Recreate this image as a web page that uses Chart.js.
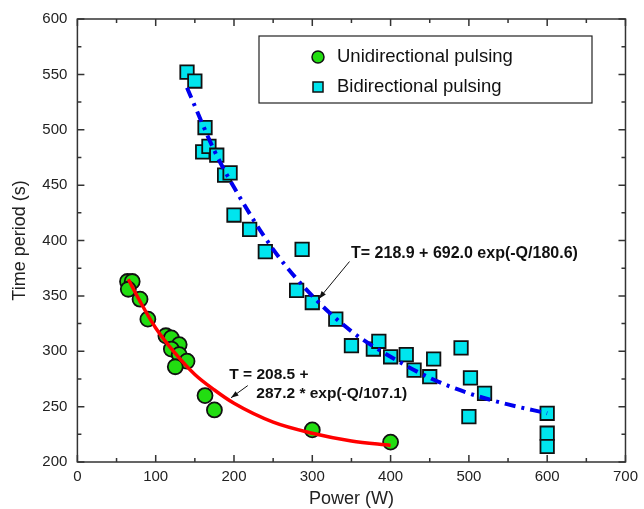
<!DOCTYPE html>
<html lang="en">
<head>
  <meta charset="UTF-8">
  <title>Time period vs Power</title>
  <script src="https://cdn.jsdelivr.net/npm/chart.js@4.4.1/dist/chart.umd.min.js"></script>
  <style>
    html, body { margin: 0; padding: 0; background: #fff; }
    #wrap { width: 644px; height: 509px; }
  </style>
</head>
<body>
  <div id="wrap"><canvas id="chart" width="644" height="509"></canvas></div>
  <script>
    // measured points
    const uniPower = [64, 70, 65, 80, 90, 113, 120, 130, 120, 130, 140, 125, 163, 175, 300, 400];
    const uniTime  = [363, 363, 356, 347, 329, 314, 312, 306, 302, 297, 291, 286, 260, 247, 229, 218];

    const biPower = [140, 150, 163, 160, 168, 178, 188, 195, 200, 220, 240, 287, 280, 300, 330,
                     350, 378, 385, 400, 420, 430, 450, 455, 490, 502, 500, 520, 600, 600, 600];
    const biTime  = [552, 544, 502, 480, 485, 477, 459, 461, 423, 410, 390, 392, 355, 344, 329,
                     305, 302, 309, 295, 297, 283, 277, 293, 303, 276, 241, 262, 244, 226, 214];

    // fitted curves
    const uniFitPower = [65, 80, 100, 125, 150, 175, 200, 250, 300, 350, 400];
    const uniFitTime  = [365, 345, 321, 298, 279, 265, 253, 236, 226, 219, 215];
    const biFitPower  = [140, 175, 200, 250, 300, 350, 400, 450, 500, 550, 600];
    const biFitTime   = [538, 481, 448, 392, 350, 318, 295, 276, 262, 252, 244];

    const seriesNames = ['Unidirectional pulsing', 'Bidirectional pulsing'];
    const fitLabels = [['T = 208.5 +', '287.2 * exp(-Q/107.1)'], ['T= 218.9 + 692.0 exp(-Q/180.6)']];

    const xTicks = { min: 0, max: 700, step: 100 };
    const yTicks = { min: 200, max: 600, step: 50 };

    const FONT = "'Liberation Sans', Arial, sans-serif";
    const AXIS = '#333';

    function toXY(xs, ys) {
      return xs.map((x, i) => ({ x: x, y: ys[i] }));
    }

    // ticks on all four sides, pointing inward, plus a box round the plot
    const frame = {
      id: 'frame',
      afterDatasetsDraw(chart) {
        const { ctx, chartArea: a, scales: { x, y } } = chart;
        ctx.save();
        ctx.strokeStyle = AXIS;
        ctx.lineWidth = 1.5;
        ctx.strokeRect(a.left, a.top, a.right - a.left, a.bottom - a.top);
        ctx.beginPath();
        for (let v = xTicks.min; v <= xTicks.max; v += xTicks.step / 2) {
          const len = v % xTicks.step === 0 ? 7 : 4;
          const px = x.getPixelForValue(v);
          ctx.moveTo(px, a.bottom); ctx.lineTo(px, a.bottom - len);
          ctx.moveTo(px, a.top); ctx.lineTo(px, a.top + len);
        }
        for (let v = yTicks.min; v <= yTicks.max; v += yTicks.step / 2) {
          const len = v % yTicks.step === 0 ? 7 : 4;
          const py = y.getPixelForValue(v);
          ctx.moveTo(a.left, py); ctx.lineTo(a.left + len, py);
          ctx.moveTo(a.right, py); ctx.lineTo(a.right - len, py);
        }
        ctx.stroke();
        ctx.restore();
      }
    };

    // legend box inside the plot
    const legendBox = {
      id: 'legendBox',
      afterDatasetsDraw(chart) {
        const { ctx } = chart;
        const bx = 259, by = 36, bw = 333, bh = 67;
        ctx.save();
        ctx.fillStyle = '#fff';
        ctx.fillRect(bx, by, bw, bh);
        ctx.strokeStyle = '#222';
        ctx.lineWidth = 1.2;
        ctx.strokeRect(bx, by, bw, bh);

        ctx.textBaseline = 'middle';

        // circle
        ctx.beginPath();
        ctx.arc(318, 57, 6, 0, Math.PI * 2);
        ctx.fillStyle = '#22dd11';
        ctx.fill();
        ctx.lineWidth = 1.5;
        ctx.strokeStyle = '#111';
        ctx.stroke();
        // square
        ctx.fillStyle = '#00e5ee';
        ctx.fillRect(313, 82, 10, 10);
        ctx.strokeRect(313, 82, 10, 10);

        ctx.font = '18.5px ' + FONT;
        ctx.fillStyle = '#111';
        ctx.fillText(seriesNames[0], 337, 57);
        ctx.fillText(seriesNames[1], 337, 87);
        ctx.restore();
      }
    };

    // fit equations with arrows
    const notes = {
      id: 'notes',
      afterDatasetsDraw(chart) {
        const { ctx, scales: { x, y } } = chart;
        const arrow = (x0, y0, x1, y1) => {
          const p0 = [x.getPixelForValue(x0), y.getPixelForValue(y0)];
          const p1 = [x.getPixelForValue(x1), y.getPixelForValue(y1)];
          const ang = Math.atan2(p1[1] - p0[1], p1[0] - p0[0]);
          ctx.beginPath();
          ctx.moveTo(p0[0], p0[1]);
          ctx.lineTo(p1[0], p1[1]);
          ctx.stroke();
          ctx.beginPath();
          ctx.moveTo(p1[0], p1[1]);
          ctx.lineTo(p1[0] - 8 * Math.cos(ang - 0.35), p1[1] - 8 * Math.sin(ang - 0.35));
          ctx.lineTo(p1[0] - 8 * Math.cos(ang + 0.35), p1[1] - 8 * Math.sin(ang + 0.35));
          ctx.closePath();
          ctx.fill();
        };
        ctx.save();
        ctx.fillStyle = '#111';
        ctx.strokeStyle = '#111';
        ctx.lineWidth = 1;
        ctx.font = 'bold 16px ' + FONT;
        ctx.textBaseline = 'middle';
        ctx.fillText(fitLabels[1][0], x.getPixelForValue(349.5), y.getPixelForValue(388));
        arrow(347.5, 381, 308.5, 347.5);
        ctx.font = 'bold 15.5px ' + FONT;
        ctx.fillText(fitLabels[0][0], x.getPixelForValue(194), y.getPixelForValue(278.5));
        ctx.fillText(fitLabels[0][1], x.getPixelForValue(228.5), y.getPixelForValue(261.5));
        arrow(217.6, 269, 196.2, 258);
        ctx.restore();
      }
    };

    const ctx = document.getElementById('chart').getContext('2d');
    new Chart(ctx, {
      type: 'scatter',
      data: {
        datasets: [
          {
            label: 'Unidirectional fit',
            data: toXY(uniFitPower, uniFitTime),
            showLine: true,
            borderColor: '#ff0000',
            borderWidth: 3.5,
            pointRadius: 0,
            cubicInterpolationMode: 'monotone',
            order: 1
          },
          {
            label: 'Bidirectional fit',
            data: toXY(biFitPower, biFitTime),
            showLine: true,
            borderColor: '#0000ee',
            borderWidth: 4,
            borderDash: [11, 6, 3, 6],
            pointRadius: 0,
            cubicInterpolationMode: 'monotone',
            order: 1
          },
          {
            label: seriesNames[0],
            data: toXY(uniPower, uniTime),
            pointStyle: 'circle',
            pointRadius: 7.5,
            pointBackgroundColor: '#22dd11',
            pointBorderColor: '#111',
            pointBorderWidth: 1.8,
            order: 2
          },
          {
            label: seriesNames[1],
            data: toXY(biPower, biTime),
            pointStyle: 'rect',
            pointRadius: 9.5,
            pointBackgroundColor: '#00e5ee',
            pointBorderColor: '#111',
            pointBorderWidth: 1.8,
            order: 2
          }
        ]
      },
      options: {
        responsive: false,
        animation: false,
        layout: { padding: { left: 0, right: 12, top: 15, bottom: 0 } },
        plugins: {
          legend: { display: false },
          tooltip: { enabled: false }
        },
        scales: {
          x: {
            type: 'linear',
            min: xTicks.min,
            max: xTicks.max,
            afterFit(scale) { scale.height = 47; },
            grid: { display: false, drawTicks: false },
            border: { display: false },
            ticks: { stepSize: xTicks.step, color: '#222', padding: 6, font: { family: FONT, size: 15 } },
            title: { display: true, text: 'Power (W)', color: '#222', padding: { top: 0, bottom: -1 }, font: { family: FONT, size: 18 } }
          },
          y: {
            type: 'linear',
            min: yTicks.min,
            max: yTicks.max,
            afterFit(scale) { scale.width = 77.4; },
            grid: { display: false, drawTicks: false },
            border: { display: false },
            ticks: { stepSize: yTicks.step, color: '#222', padding: 10, font: { family: FONT, size: 15 } },
            title: { display: true, text: 'Time period (s)', color: '#222', padding: { top: 9, bottom: 0 }, font: { family: FONT, size: 18 } }
          }
        }
      },
      plugins: [frame, legendBox, notes]
    });
  </script>
</body>
</html>
